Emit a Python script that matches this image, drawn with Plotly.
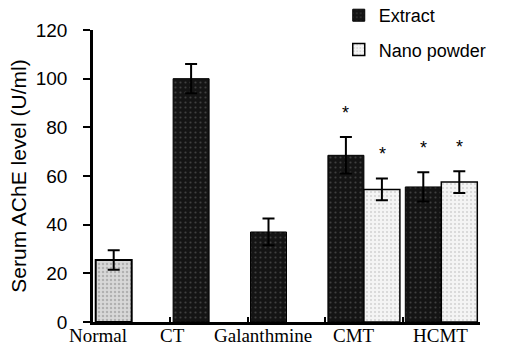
import plotly.graph_objects as go

categories = ["Normal", "CT", "Galanthmine", "CMT", "HCMT"]
extract_vals = [None, 100, 37, 68.5, 55.5]
extract_err = [0, 6, 5.5, 7.5, 6]
normal_vals = [25.5, None, None, None, None]
normal_err = [4, 0, 0, 0, 0]
nano_vals = [None, None, None, 54.5, 57.5]
nano_err = [0, 0, 0, 4.5, 4.5]
star_extract = [False, False, False, True, True]
star_nano = [False, False, False, True, True]

fig = go.Figure()
eb = dict(type="data", visible=True, color="black", thickness=2, width=6)

fig.add_trace(go.Bar(
    x=categories, y=extract_vals, name="Extract", offsetgroup="a", legendgroup="g1",
    error_y=dict(array=extract_err, **eb),
    marker=dict(color="#141414", line=dict(color="black", width=1),
                pattern=dict(shape=".", fgcolor="#6a6a6a", bgcolor="#141414",
                             size=5, solidity=0.15)),
))
fig.add_trace(go.Bar(
    x=categories, y=normal_vals, name="Normal", offsetgroup="a", showlegend=False,
    error_y=dict(array=normal_err, **eb),
    marker=dict(color="#cfcfcf", line=dict(color="black", width=2),
                pattern=dict(shape=".", fgcolor="#8a8a8a", bgcolor="#d8d8d8",
                             size=4, solidity=0.3)),
))
fig.add_trace(go.Bar(
    x=categories, y=nano_vals, name="Nano powder", offsetgroup="b", legendgroup="g2",
    error_y=dict(array=nano_err, **eb),
    marker=dict(color="#ececec", line=dict(color="black", width=1.5),
                pattern=dict(shape=".", fgcolor="#b0b0b0", bgcolor="#f4f4f4",
                             size=4, solidity=0.2)),
))

annotations = []
for i, c in enumerate(categories):
    if star_extract[i] and extract_vals[i] is not None:
        annotations.append(dict(x=i - 0.235, y=extract_vals[i] + extract_err[i] + 5,
                                xref="x", yref="y", text="*", showarrow=False,
                                yanchor="bottom", font=dict(size=18, color="black")))
    if star_nano[i] and nano_vals[i] is not None:
        annotations.append(dict(x=i + 0.235, y=nano_vals[i] + nano_err[i] + 5,
                                xref="x", yref="y", text="*", showarrow=False,
                                yanchor="bottom", font=dict(size=18, color="black")))

label_offsets = [-0.44, -0.47, -0.3, -0.13, -0.01]
for i, c in enumerate(categories):
    annotations.append(dict(x=i + label_offsets[i], y=0, xref="x", yref="y",
                            text=c, showarrow=False, yanchor="top", yshift=-1,
                            font=dict(family="Liberation Serif, Times New Roman, serif",
                                      size=19, color="black")))

fig.update_layout(
    width=508, height=354,
    margin=dict(l=93, r=28, t=30, b=32, autoexpand=False),
    paper_bgcolor="white", plot_bgcolor="white",
    barmode="group", bargap=0.07, bargroupgap=0,
    annotations=annotations,
    font=dict(family="Liberation Sans, Arial, sans-serif", color="black"),
    legend=dict(x=0.635, y=1.113, xanchor="left", yanchor="top",
                font=dict(size=18, color="black"), bgcolor="rgba(0,0,0,0)",
                itemwidth=30, traceorder="grouped", tracegroupgap=8),
    xaxis=dict(type="category", showline=True, linecolor="black", linewidth=2.5,
               ticks="inside", tickson="boundaries", ticklen=5, tickwidth=2,
               tickcolor="black", showticklabels=False, showgrid=False,
               range=[-0.5, 4.5]),
    yaxis=dict(range=[0, 120], dtick=20, showline=True, linecolor="black",
               linewidth=2.5, ticks="outside", ticklen=7, tickwidth=2,
               tickcolor="black", showgrid=False, zeroline=False,
               ticklabelstandoff=12,
               tickfont=dict(family="Liberation Sans Narrow, Arial Narrow, sans-serif",
                             size=19, color="black"),
               title=dict(text="Serum AChE level (U/ml)", standoff=4,
                          font=dict(family="Liberation Sans, Arial, sans-serif",
                                    size=21, color="black"))),
)

fig.write_html("out.html")
